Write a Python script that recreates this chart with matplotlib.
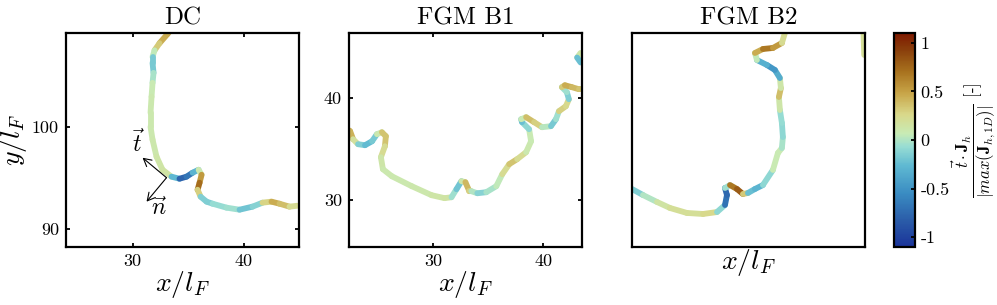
import numpy as np
import matplotlib
matplotlib.use("Agg")
import matplotlib.pyplot as plt
from matplotlib.collections import LineCollection
from matplotlib.colors import LinearSegmentedColormap, Normalize
from matplotlib.cm import ScalarMappable

plt.rcParams['mathtext.fontset'] = 'cm'
plt.rcParams['font.family'] = ['cmr10', 'DejaVu Serif']
plt.rcParams['axes.unicode_minus'] = False

# ---------------- data ----------------
titles = ["DC", "FGM B1", "FGM B2"]

dc_x = [33.30, 33.15, 32.43, 31.98, 31.80, 31.80, 31.89, 31.80, 31.71, 31.62, 31.62, 31.80, 32.16,
        32.70, 33.51, 34.23, 34.86, 35.41, 35.95, 36.22, 36.04, 35.86, 36.13, 36.67, 37.21, 38.47,
        39.64, 40.81, 41.71, 42.52, 43.24, 44.14, 44.86]
dc_y = [109.3, 109.1, 108.2, 107.5, 106.86, 106.27, 105.29, 104.31, 102.94, 101.37, 100.0, 98.73, 97.06,
        95.78, 95.1, 94.9, 95.1, 95.49, 95.78, 95.29, 94.51, 93.82, 93.14, 92.65, 92.45, 92.06,
        91.86, 92.16, 92.55, 92.65, 92.45, 92.16, 92.25]
dc_v = [0.45, 0.45, 0.45, 0.2, -0.1, -0.25, -0.1, 0.05, 0.1, 0.1, 0.1, 0.1, 0.12,
        0.15, 0.15, -0.7, -0.85, -0.5, -0.1, 0.3, 0.75, 0.7, -0.1, -0.2, -0.1, -0.05,
        -0.05, -0.35, 0.1, 0.45, 0.45, 0.3, 0.15]

b1_x = [22.40, 22.50, 22.77, 23.22, 23.85, 24.49, 24.93, 25.38, 25.74, 25.65, 25.29, 25.47, 26.28,
        28.08, 29.88, 31.05, 31.68, 32.13, 32.58, 32.94, 33.30, 33.48, 34.02, 34.83, 35.74, 36.28,
        36.91, 37.63, 38.44, 38.89, 38.71, 38.07, 37.99, 38.44, 39.16, 39.88, 40.69, 41.14, 41.41,
        42.04, 42.31, 42.13, 41.68, 41.95, 42.58, 43.21, 43.57]
b1_y = [36.80, 36.71, 35.93, 35.44, 35.34, 35.73, 36.42, 36.61, 36.22, 35.24, 34.17, 33.0, 32.31,
        31.34, 30.46, 30.17, 30.26, 31.04, 31.83, 31.73, 30.85, 30.85, 30.65, 30.75, 31.34, 32.51,
        33.49, 33.98, 34.66, 35.73, 36.90, 37.59, 37.88, 38.08, 37.59, 37.10, 37.20, 37.88, 38.66,
        39.15, 39.83, 40.52, 41.01, 41.20, 41.01, 40.81, 40.81]
b1_v = [0.45, 0.45, 0.4, -0.05, -0.25, -0.25, -0.1, 0.3, 0.4, 0.3, 0.15, 0.1, 0.1,
        0.1, 0.12, 0.15, 0.15, -0.25, -0.15, 0.4, 0.4, 0.2, -0.2, -0.05, 0.0, 0.1,
        0.35, 0.35, 0.1, 0.1, 0.05, -0.25, -0.2, 0.35, 0.4, 0.2, -0.15, -0.2, 0.1,
        0.5, 0.0, -0.3, 0.2, 0.45, 0.45, 0.35, 0.35]
b1s_x = [43.37, 43.06, 43.37]
b1s_y = [44.35, 43.9, 43.42]
b1s_v = [0.45, -0.2, -0.25]

b2_x = [20.0, 20.99, 22.25, 23.42, 24.95, 26.40, 27.66, 28.38, 28.56, 28.38, 28.83, 29.46, 30.0,
        30.45, 31.08, 31.80, 32.70, 33.15, 33.51, 33.60, 33.51, 33.33, 33.24, 33.42, 33.33, 32.88,
        32.16, 31.26, 31.08, 31.80, 32.70, 33.51, 33.78]
b2_y = [25.69, 25.10, 24.42, 23.83, 23.34, 23.24, 23.43, 24.12, 25.10, 25.79, 26.08, 25.69, 25.20,
        25.30, 25.69, 26.08, 27.56, 29.22, 29.71, 30.79, 32.17, 33.44, 34.72, 35.60, 36.58, 37.37,
        37.86, 38.35, 39.04, 39.43, 39.53, 40.02, 41.0]
b2_v = [-0.2, -0.1, 0.1, 0.2, 0.2, 0.2, 0.3, -0.5, -0.9, -0.6, 0.5, 0.85, 0.75,
        -0.1, -0.35, -0.25, 0.05, 0.1, 0.05, -0.1, -0.1, -0.05, 0.3, 0.45, -0.2, -0.5,
        -0.45, -0.2, 0.3, 0.6, 0.75, 0.3, 0.15]
b2s_x = [40.86, 40.93]
b2s_y = [41.1, 38.84]
b2s_v = [0.2, 0.2]

panel_xlim = [(24, 45), (22.4, 43.5), (20, 41)]
panel_ylim = [(88.2, 109.2), (25.4, 46.3), (20, 41)]
panel_xticks = [[30, 40], [30, 40], []]
panel_yticks = [[90, 100], [30, 40], []]

cbar_ticks = [-1, -0.5, 0, 0.5, 1]
cbar_labels = ["-1", "-0.5", "0", "0.5", "1"]
vmin, vmax = -1.1, 1.1

# ---------------- colormap ----------------
nodes = [(0.00, "#1A3399"), (0.12, "#2A5BA8"), (0.25, "#3A8CC2"), (0.38, "#5FB9D2"),
         (0.47, "#98DDD3"), (0.53, "#C8EBB5"), (0.62, "#D9D88A"), (0.72, "#C8A548"),
         (0.82, "#A8721E"), (0.92, "#8A400C"), (1.00, "#7E1900")]
cmap = LinearSegmentedColormap.from_list("romar", nodes)
norm = Normalize(vmin, vmax)

fig = plt.figure(figsize=(9.97, 3.05), dpi=100)
W, H = 997, 305

def axrect(x0, x1, y0, y1):
    return [x0 / W, 1 - y1 / H, (x1 - x0) / W, (y1 - y0) / H]

ax_rects = [axrect(66, 299, 33, 247), axrect(349, 582, 33, 247), axrect(632, 865, 33, 247)]
curves = [[(dc_x, dc_y, dc_v)],
          [(b1_x, b1_y, b1_v), (b1s_x, b1s_y, b1s_v)],
          [(b2_x, b2_y, b2_v), (b2s_x, b2s_y, b2s_v)]]

def draw_curve(ax, x, y, v):
    pts = np.column_stack([x, y])
    segs = np.stack([pts[:-1], pts[1:]], axis=1)
    vv = np.asarray(v)
    cv = 0.5 * (vv[:-1] + vv[1:])
    lc = LineCollection(segs, cmap=cmap, norm=norm, linewidths=4.2,
                        capstyle='round', joinstyle='round')
    lc.set_array(cv)
    ax.add_collection(lc)

axes = []
for i in range(3):
    ax = fig.add_axes(ax_rects[i])
    axes.append(ax)
    for (x, y, v) in curves[i]:
        draw_curve(ax, x, y, v)
    ax.set_xlim(*panel_xlim[i])
    ax.set_ylim(*panel_ylim[i])
    ax.set_xticks(panel_xticks[i])
    ax.set_yticks(panel_yticks[i])
    ax.set_xticklabels([str(t) for t in panel_xticks[i]])
    ax.set_yticklabels([str(t) for t in panel_yticks[i]])
    ax.tick_params(direction='in', top=True, right=True, length=3, width=1.3,
                   labelsize=13, pad=5)
    for s in ax.spines.values():
        s.set_linewidth(1.6)
    ax.set_title(titles[i], fontsize=18, pad=6)
    ax.set_xlabel(r"$x/l_F$", fontsize=20, labelpad=0)

axes[0].set_ylabel(r"$y/l_F$", fontsize=20, labelpad=2)

# tangent / normal arrows in DC panel
base = (33.06, 95.0)
astyle = dict(arrowstyle="->,head_length=0.55,head_width=0.3", lw=0.8, color='k',
              shrinkA=0, shrinkB=0)
axes[0].annotate("", xy=(30.9, 96.96), xytext=base, arrowprops=astyle)
axes[0].annotate("", xy=(31.26, 92.65), xytext=base, arrowprops=astyle)
axes[0].text(30.55, 98.4, r"$\vec{t}$", fontsize=17, ha='center', va='center')
axes[0].text(32.4, 92.0, r"$\vec{n}$", fontsize=17, ha='center', va='center')

# colorbar
cax = fig.add_axes(axrect(894, 915, 33, 247))
sm = ScalarMappable(norm=norm, cmap=cmap)
cb = fig.colorbar(sm, cax=cax, ticks=cbar_ticks)
cb.ax.set_yticklabels(cbar_labels)
cb.ax.tick_params(direction='in', length=3, width=1.3, labelsize=13, pad=4)
cb.outline.set_linewidth(1.6)
cb.set_label(r"$\dfrac{\vec{t}\cdot\mathbf{J}_h}{|max(\mathbf{J}_{h,1D})|}$ [-]", fontsize=12, labelpad=0)

fig.savefig("out.png", dpi=100)
